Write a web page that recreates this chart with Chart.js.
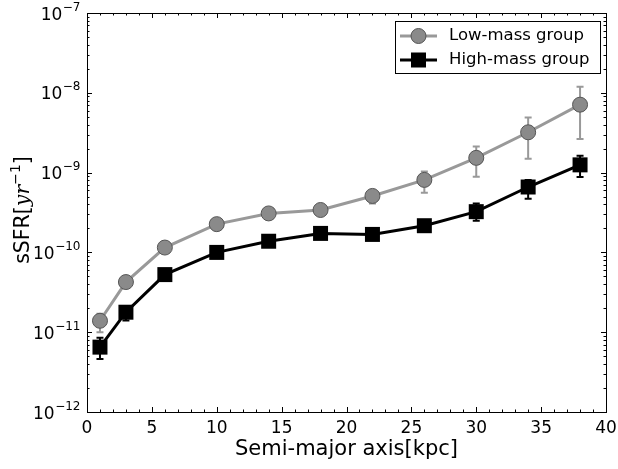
<!DOCTYPE html>
<html>
<head>
<meta charset="utf-8">
<script src="https://cdn.jsdelivr.net/npm/chart.js@4/dist/chart.umd.min.js"></script>
<style>
html,body{margin:0;padding:0;background:#fff;}
#wrap{width:618px;height:469px;}
</style>
</head>
<body>
<div id="wrap"><canvas id="c" width="618" height="469"></canvas></div>
<script>
const semiMajor = [1, 3, 6, 10, 14, 18, 22, 26, 30, 34, 38];
const lowMass = [1.39e-11, 4.25e-11, 1.15e-10, 2.26e-10, 3.08e-10, 3.4e-10, 5.1e-10, 8.1e-10, 1.53e-9, 3.2e-9, 7.1e-9];
const lowErrLo = [1.0e-11, 3.8e-11, 1.05e-10, 2.1e-10, 2.9e-10, 3.2e-10, 4.1e-10, 5.6e-10, 8.9e-10, 1.49e-9, 2.64e-9];
const lowErrHi = [1.7e-11, 4.7e-11, 1.25e-10, 2.45e-10, 3.3e-10, 3.6e-10, 6.0e-10, 1.03e-9, 2.13e-9, 4.9e-9, 1.19e-8];
const highMass = [6.5e-12, 1.78e-11, 5.27e-11, 1.0e-10, 1.38e-10, 1.73e-10, 1.68e-10, 2.16e-10, 3.24e-10, 6.6e-10, 1.25e-9];
const highErrLo = [4.6e-12, 1.4e-11, 4.8e-11, 9.3e-11, 1.3e-10, 1.63e-10, 1.55e-10, 1.9e-10, 2.5e-10, 4.7e-10, 8.8e-10];
const highErrHi = [8.5e-12, 2.1e-11, 5.8e-11, 1.08e-10, 1.46e-10, 1.83e-10, 1.8e-10, 2.45e-10, 4.1e-10, 8.1e-10, 1.63e-9];
const seriesNames = ['Low-mass group', 'High-mass group'];
const xTicks = [0, 5, 10, 15, 20, 25, 30, 35, 40];
const yTicks = [1e-12, 1e-11, 1e-10, 1e-9, 1e-8, 1e-7];
const xTitle = 'Semi-major axis[kpc]';

const FONT = "'DejaVu Sans', sans-serif";

const lowColor = '#999999', lowFill = '#8a8a8a', lowEdge = '#555555';
const highColor = '#000000';

const errors = [[lowErrLo, lowErrHi], [highErrLo, highErrHi]];

const decor = {
  id: 'decor',
  beforeDatasetsDraw(chart) {
    const ctx = chart.ctx, xs = chart.scales.x, ys = chart.scales.y;
    ctx.save();
    chart.data.datasets.forEach((ds, i) => {
      const [lo, hi] = errors[i];
      ctx.strokeStyle = ds.borderColor;
      ctx.lineWidth = 2;
      semiMajor.forEach((xv, j) => {
        const px = xs.getPixelForValue(xv);
        const y1 = ys.getPixelForValue(lo[j]);
        const y2 = ys.getPixelForValue(hi[j]);
        ctx.beginPath();
        ctx.moveTo(px, y1); ctx.lineTo(px, y2);
        ctx.moveTo(px - 3.5, y1); ctx.lineTo(px + 3.5, y1);
        ctx.moveTo(px - 3.5, y2); ctx.lineTo(px + 3.5, y2);
        ctx.stroke();
      });
    });
    ctx.restore();
  },
  afterDraw(chart) {
    const ctx = chart.ctx, a = chart.chartArea, xs = chart.scales.x, ys = chart.scales.y;
    ctx.save();
    // frame
    ctx.strokeStyle = '#000';
    ctx.lineWidth = 1;
    ctx.strokeRect(Math.round(a.left) + 0.5, Math.round(a.top) + 0.5, Math.round(a.right - a.left), Math.round(a.bottom - a.top));
    // x ticks inward
    ctx.beginPath();
    for (let v = 0; v <= 40; v++) {
      const px = Math.round(xs.getPixelForValue(v)) + 0.5;
      const len = v % 5 === 0 ? 5 : 2.5;
      ctx.moveTo(px, a.bottom); ctx.lineTo(px, a.bottom - len);
      ctx.moveTo(px, a.top); ctx.lineTo(px, a.top + len);
    }
    // y ticks inward (log)
    for (let e = -12; e <= -7; e++) {
      for (let k = 1; k <= 9; k++) {
        const v = k * Math.pow(10, e);
        if (v > 1.0001e-7) break;
        const py = Math.round(ys.getPixelForValue(v)) + 0.5;
        const len = k === 1 ? 5 : 2.5;
        ctx.moveTo(a.left, py); ctx.lineTo(a.left + len, py);
        ctx.moveTo(a.right, py); ctx.lineTo(a.right - len, py);
      }
    }
    ctx.stroke();

    // y tick labels: 10^e
    ctx.fillStyle = '#000';
    ctx.textAlign = 'left';
    ctx.textBaseline = 'alphabetic';
    const bigF = '17px ' + FONT, smallF = '12px ' + FONT;
    yTicks.forEach(v => {
      const e = Math.round(Math.log10(v));
      const ex = '\u2212' + String(-e);
      const py = ys.getPixelForValue(v);
      ctx.font = bigF; const w1 = ctx.measureText('10').width;
      ctx.font = smallF; const w2 = ctx.measureText(ex).width;
      const x0 = a.left - 7 - w1 - w2;
      ctx.font = bigF; ctx.fillText('10', x0, py + 6.5);
      ctx.font = smallF; ctx.fillText(ex, x0 + w1 + 0.5, py - 2.5);
    });

    // legend
    const lx = 395.5, ly = 21.5, lw = 205, lh = 52;
    ctx.fillStyle = '#fff';
    ctx.fillRect(lx, ly, lw, lh);
    ctx.strokeStyle = '#000';
    ctx.lineWidth = 1;
    ctx.strokeRect(lx, ly, lw, lh);
    const rows = [36, 60];
    chart.data.datasets.forEach((ds, i) => {
      const y = rows[i];
      ctx.strokeStyle = ds.borderColor;
      ctx.lineWidth = 3;
      ctx.beginPath(); ctx.moveTo(400, y); ctx.lineTo(437, y); ctx.stroke();
      ctx.fillStyle = ds.pointBackgroundColor;
      ctx.strokeStyle = ds.pointBorderColor;
      ctx.lineWidth = 1;
      if (i === 0) {
        ctx.beginPath(); ctx.arc(418.5, y, 7.5, 0, Math.PI * 2); ctx.fill(); ctx.stroke();
      } else {
        ctx.fillRect(411, y - 7.5, 15, 15);
      }
      ctx.fillStyle = '#000';
      ctx.font = '16.5px ' + FONT;
      ctx.textAlign = 'left';
      ctx.textBaseline = 'middle';
      ctx.fillText(ds.label, 449, y);
    });

    // y title: sSFR[yr^-1]
    ctx.translate(22, 210);
    ctx.rotate(-Math.PI / 2);
    ctx.fillStyle = '#000';
    ctx.textBaseline = 'alphabetic';
    ctx.textAlign = 'left';
    const f1 = '20.5px ' + FONT, f2 = 'italic 20.5px "DejaVu Serif", serif', f3 = '14px ' + FONT;
    const parts = [['sSFR[', f1, 0], ['yr', f2, 0], ['\u2212', f3, -9], ['1', f3, -9], [']', f1, 0]];
    let w = 0;
    parts.forEach(p => { ctx.font = p[1]; w += ctx.measureText(p[0]).width; });
    let cx = -w / 2;
    parts.forEach(p => { ctx.font = p[1]; ctx.fillText(p[0], cx, 7 + p[2]); cx += ctx.measureText(p[0]).width; });
    ctx.restore();
  }
};

new Chart(document.getElementById('c'), {
  type: 'scatter',
  data: {
    datasets: [
      {
        label: seriesNames[0],
        data: semiMajor.map((x, i) => ({x, y: lowMass[i]})),
        showLine: true,
        borderColor: lowColor,
        borderWidth: 3,
        pointStyle: 'circle',
        pointRadius: 7.5,
        pointBackgroundColor: lowFill,
        pointBorderColor: lowEdge,
        pointBorderWidth: 1
      },
      {
        label: seriesNames[1],
        data: semiMajor.map((x, i) => ({x, y: highMass[i]})),
        showLine: true,
        borderColor: highColor,
        borderWidth: 3,
        pointStyle: 'rect',
        pointRadius: 10.6,
        pointBackgroundColor: '#000',
        pointBorderColor: '#000',
        pointBorderWidth: 0
      }
    ]
  },
  options: {
    responsive: false,
    animation: false,
    devicePixelRatio: 1,
    layout: {padding: {left: 0, right: 12, top: 13, bottom: 0}},
    plugins: {legend: {display: false}, tooltip: {enabled: false}},
    scales: {
      x: {
        type: 'linear', min: 0, max: 40,
        afterBuildTicks: s => { s.ticks = xTicks.map(v => ({value: v})); },
        afterFit: s => { s.height = 57; s.paddingLeft = 0; s.paddingRight = 0; },
        grid: {display: false, drawTicks: false},
        border: {display: false},
        ticks: {color: '#000', font: {family: FONT, size: 17}, padding: 6, maxRotation: 0},
        title: {display: true, text: xTitle, color: '#000', font: {family: FONT, size: 21}, padding: {top: 0, bottom: 7}}
      },
      y: {
        type: 'logarithmic', min: 1e-12, max: 1e-7,
        afterBuildTicks: s => { s.ticks = yTicks.map(v => ({value: v})); },
        afterFit: s => { s.width = 87; s.paddingTop = 0; s.paddingBottom = 0; },
        grid: {display: false, drawTicks: false},
        border: {display: false},
        ticks: {display: false}
      }
    }
  },
  plugins: [decor]
});
</script>
</body>
</html>
